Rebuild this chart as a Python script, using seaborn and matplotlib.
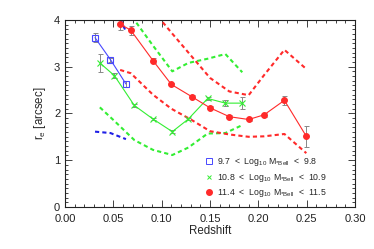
import numpy as np
import pandas as pd
import matplotlib
matplotlib.use("Agg")
import matplotlib.pyplot as plt
from matplotlib.lines import Line2D
from matplotlib.ticker import MultipleLocator
import seaborn as sns

# 9.7 < log M < 9.8
z_blue = [0.031, 0.047, 0.063]
re_blue = [3.62, 3.15, 2.63]
err_blue = [0.09, 0.04, 0.06]
hi_blue = [5.0, 4.5, 3.75]
lo_blue = [1.61, 1.58, 1.45]

# 10.8 < log M < 10.9
z_green = [0.036, 0.051, 0.0717, 0.091, 0.111, 0.1276, 0.1476, 0.1659, 0.1834]
re_green = [3.08, 2.81, 2.17, 1.88, 1.61, 1.88, 2.32, 2.22, 2.22]
err_green = [0.2, 0.05, 0.03, 0.03, 0.03, 0.03, 0.03, 0.07, 0.13]
hi_green = [5.5, 4.6, 4.0, 3.45, 2.9, 3.08, 3.17, 3.27, 2.88]
lo_green = [2.13, 1.84, 1.43, 1.22, 1.11, 1.27, 1.57, 1.58, 1.75]

# 11.4 < log M < 11.5
z_red = [0.057, 0.068, 0.091, 0.110, 0.131, 0.150, 0.170, 0.190, 0.206, 0.227, 0.2497]
re_red = [3.91, 3.78, 3.13, 2.62, 2.36, 2.12, 1.93, 1.87, 1.97, 2.28, 1.51]
err_red = [0.12, 0.1, 0.06, 0.04, 0.03, 0.03, 0.03, 0.03, 0.04, 0.1, 0.22]
hi_red = [5.2, 4.9, 4.2, 3.73, 3.22, 2.76, 2.47, 2.39, 2.82, 3.36, 2.95]
lo_red = [2.93, 2.86, 2.4, 2.1, 1.86, 1.62, 1.55, 1.50, 1.51, 1.56, 1.15]

labels = [
    "9.7  <  Log$_{10}$ M$_{*Bell}$  <  9.8",
    "10.8  <  Log$_{10}$ M$_{*Bell}$  <  10.9",
    "11.4  <  Log$_{10}$ M$_{*Bell}$  <  11.5",
]

sns.set_style("ticks")
plt.rcParams["font.family"] = ["Liberation Sans", "DejaVu Sans"]
plt.rcParams["mathtext.default"] = "regular"
plt.rcParams["lines.dashed_pattern"] = [2.0, 1.5]

blue = "#4848ff"
blue_d = "#1f1fe6"
green = "#33ee33"
red = "#ff2a2a"
gray = "#888888"

fig = plt.figure(figsize=(3.74, 2.49), dpi=100)
ax = fig.add_axes([0.174, 0.169, 0.775, 0.751])

# dashed envelopes
for z, hi, lo, c in [(z_blue, hi_blue, lo_blue, blue_d),
                     (z_green, hi_green, lo_green, green),
                     (z_red, hi_red, lo_red, red)]:
    sns.lineplot(x=z, y=hi, ax=ax, color=c, lw=1.5, ls="--", sort=False)
    sns.lineplot(x=z, y=lo, ax=ax, color=c, lw=1.5, ls="--", sort=False)

# error bars
ax.errorbar(z_blue, re_blue, yerr=err_blue, fmt="none", ecolor=gray, elinewidth=0.7, capsize=1.8, capthick=0.7)
ax.errorbar(z_green, re_green, yerr=err_green, fmt="none", ecolor=gray, elinewidth=0.7, capsize=1.8, capthick=0.7)
ax.errorbar(z_red, re_red, yerr=err_red, fmt="none", ecolor=gray, elinewidth=0.7, capsize=1.8, capthick=0.7)

# solid lines with symbols
sns.lineplot(x=z_blue, y=re_blue, ax=ax, color=blue, lw=0.8, marker="s", ms=5,
             markerfacecolor="none", markeredgecolor=blue, markeredgewidth=0.8)
sns.lineplot(x=z_green, y=re_green, ax=ax, color=green, lw=0.8, marker="x", ms=4,
             markeredgecolor=green, markeredgewidth=0.8)
sns.lineplot(x=z_red, y=re_red, ax=ax, color=red, lw=0.8, marker="o", ms=4.2,
             markerfacecolor=red, markeredgecolor=red)

ax.set_xlim(0, 0.30)
ax.set_ylim(0, 4)
ax.xaxis.set_major_locator(MultipleLocator(0.05))
ax.xaxis.set_minor_locator(MultipleLocator(0.01))
ax.yaxis.set_major_locator(MultipleLocator(1))
ax.yaxis.set_minor_locator(MultipleLocator(0.1))
ax.set_xticklabels([f"{v:.2f}" for v in ax.get_xticks()])
ax.tick_params(which="both", direction="in", top=True, right=True, labelsize=8, colors="#222222", width=0.6)
ax.tick_params(which="major", length=5)
ax.tick_params(which="minor", length=2.5)
ax.tick_params(axis="x", pad=5)
for s in ax.spines.values():
    s.set_linewidth(0.8)
    s.set_color("#222222")

ax.set_xlabel("Redshift", fontsize=8.3, labelpad=1)
ax.set_ylabel("r$_e$ [arcsec]", fontsize=8.3, labelpad=4)

handles = [
    Line2D([], [], ls="none", marker="s", ms=4, markerfacecolor="none", markeredgecolor=blue, markeredgewidth=0.7),
    Line2D([], [], ls="none", marker="x", ms=3.5, markeredgecolor=green, markeredgewidth=0.7),
    Line2D([], [], ls="none", marker="o", ms=4, markerfacecolor=red, markeredgecolor=red),
]
ax.legend(handles, labels, loc="center left", bbox_to_anchor=(0.47, 0.155), frameon=False,
          fontsize=6.3, handlelength=0.8, handletextpad=0.5, labelspacing=0.4, borderpad=0)

fig.savefig("out.png", dpi=100)
